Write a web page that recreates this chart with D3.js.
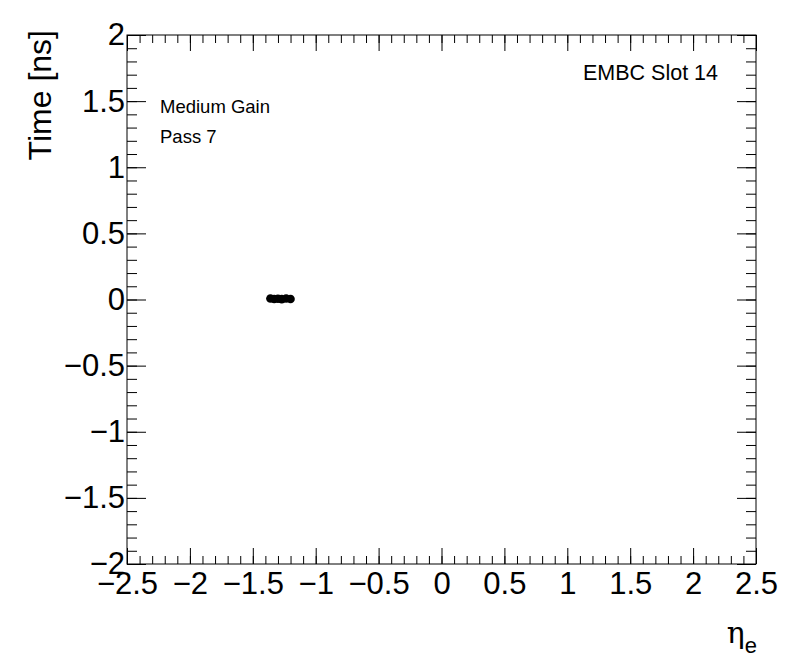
<!DOCTYPE html>
<html>
<head>
<meta charset="utf-8">
<script src="https://cdn.jsdelivr.net/npm/d3@7"></script>
<style>
  body { margin: 0; background: #fff; }
  text { font-family: "Liberation Sans", Arial, sans-serif; fill: #000; }
</style>
</head>
<body>
<div id="chart"></div>
<script>
// measured points (eta, time)
const etaValues = [-1.36, -1.33, -1.30, -1.27, -1.235, -1.20];
const timeValues = [0.008, 0.004, 0.006, 0.003, 0.007, 0.004];

const xMajorTicks = [-2.5, -2, -1.5, -1, -0.5, 0, 0.5, 1, 1.5, 2, 2.5];
const yMajorTicks = [-2, -1.5, -1, -0.5, 0, 0.5, 1, 1.5, 2];

const labelLines = ['Medium Gain', 'Pass 7'];
const slotLabel = 'EMBC Slot 14';

const W = 796, H = 672;
const frame = { left: 127, top: 35, right: 756, bottom: 564 };

const svg = d3.select('#chart').append('svg')
  .attr('width', W)
  .attr('height', H);

const x = d3.scaleLinear().domain([-2.5, 2.5]).range([frame.left, frame.right]);
const y = d3.scaleLinear().domain([-2, 2]).range([frame.bottom, frame.top]);

const fmt = d => (d < 0 ? '\u2212' : '') + Math.abs(d);

const minorX = d3.range(-25, 26).map(d => d / 10);
const minorY = d3.range(-20, 21).map(d => d / 10);

function strip(g) {
  g.select('.domain').remove();
  g.selectAll('line').attr('stroke', '#000').attr('stroke-width', 1);
}

// bottom axis
svg.append('g')
  .attr('transform', `translate(0,${frame.bottom})`)
  .call(d3.axisBottom(x).tickValues(minorX).tickSize(-8).tickFormat(''))
  .call(strip);
svg.append('g')
  .attr('transform', `translate(0,${frame.bottom})`)
  .call(d3.axisBottom(x).tickValues(xMajorTicks).tickSize(-16).tickPadding(8).tickFormat(fmt))
  .call(strip)
  .call(g => g.selectAll('text').attr('font-size', 31).attr('font-family', '"Liberation Sans", Arial, sans-serif'));

// top axis (ticks only)
svg.append('g')
  .attr('transform', `translate(0,${frame.top})`)
  .call(d3.axisTop(x).tickValues(minorX).tickSize(-8).tickFormat(''))
  .call(strip);
svg.append('g')
  .attr('transform', `translate(0,${frame.top})`)
  .call(d3.axisTop(x).tickValues(xMajorTicks).tickSize(-16).tickFormat(''))
  .call(strip);

// left axis
svg.append('g')
  .attr('transform', `translate(${frame.left},0)`)
  .call(d3.axisLeft(y).tickValues(minorY).tickSize(-10).tickFormat(''))
  .call(strip);
svg.append('g')
  .attr('transform', `translate(${frame.left},0)`)
  .call(d3.axisLeft(y).tickValues(yMajorTicks).tickSize(-19).tickPadding(2).tickFormat(fmt))
  .call(strip)
  .call(g => g.selectAll('text').attr('font-size', 31).attr('font-family', '"Liberation Sans", Arial, sans-serif'));

// right axis (ticks only)
svg.append('g')
  .attr('transform', `translate(${frame.right},0)`)
  .call(d3.axisRight(y).tickValues(minorY).tickSize(-10).tickFormat(''))
  .call(strip);
svg.append('g')
  .attr('transform', `translate(${frame.right},0)`)
  .call(d3.axisRight(y).tickValues(yMajorTicks).tickSize(-19).tickFormat(''))
  .call(strip);

// frame
svg.append('rect')
  .attr('x', frame.left)
  .attr('y', frame.top)
  .attr('width', frame.right - frame.left)
  .attr('height', frame.bottom - frame.top)
  .attr('fill', 'none')
  .attr('stroke', '#000')
  .attr('stroke-width', 1);

// points
const points = etaValues.map((e, i) => ({ eta: e, t: timeValues[i] }));
svg.append('g')
  .selectAll('circle')
  .data(points)
  .join('circle')
  .attr('cx', d => x(d.eta))
  .attr('cy', d => y(d.t))
  .attr('r', 4.3)
  .attr('fill', '#000');

// axis titles
svg.append('text')
  .attr('transform', `translate(51,30) rotate(-90)`)
  .attr('text-anchor', 'end')
  .attr('font-size', 32)
  .text('Time [ns]');

const xt = svg.append('text')
  .attr('x', 757)
  .attr('y', 643)
  .attr('text-anchor', 'end')
  .attr('font-size', 30);
xt.append('tspan').attr('font-family', '"DejaVu Serif", serif').text('\u03b7');
xt.append('tspan').attr('font-size', 22).attr('dy', 10).text('e');

// annotations
svg.append('text')
  .attr('x', 718)
  .attr('y', 80)
  .attr('text-anchor', 'end')
  .attr('font-size', 21.5)
  .text(slotLabel);

svg.append('g')
  .selectAll('text')
  .data(labelLines)
  .join('text')
  .attr('x', 160)
  .attr('y', (d, i) => 113 + i * 30)
  .attr('font-size', 18.5)
  .text(d => d);
</script>
</body>
</html>
